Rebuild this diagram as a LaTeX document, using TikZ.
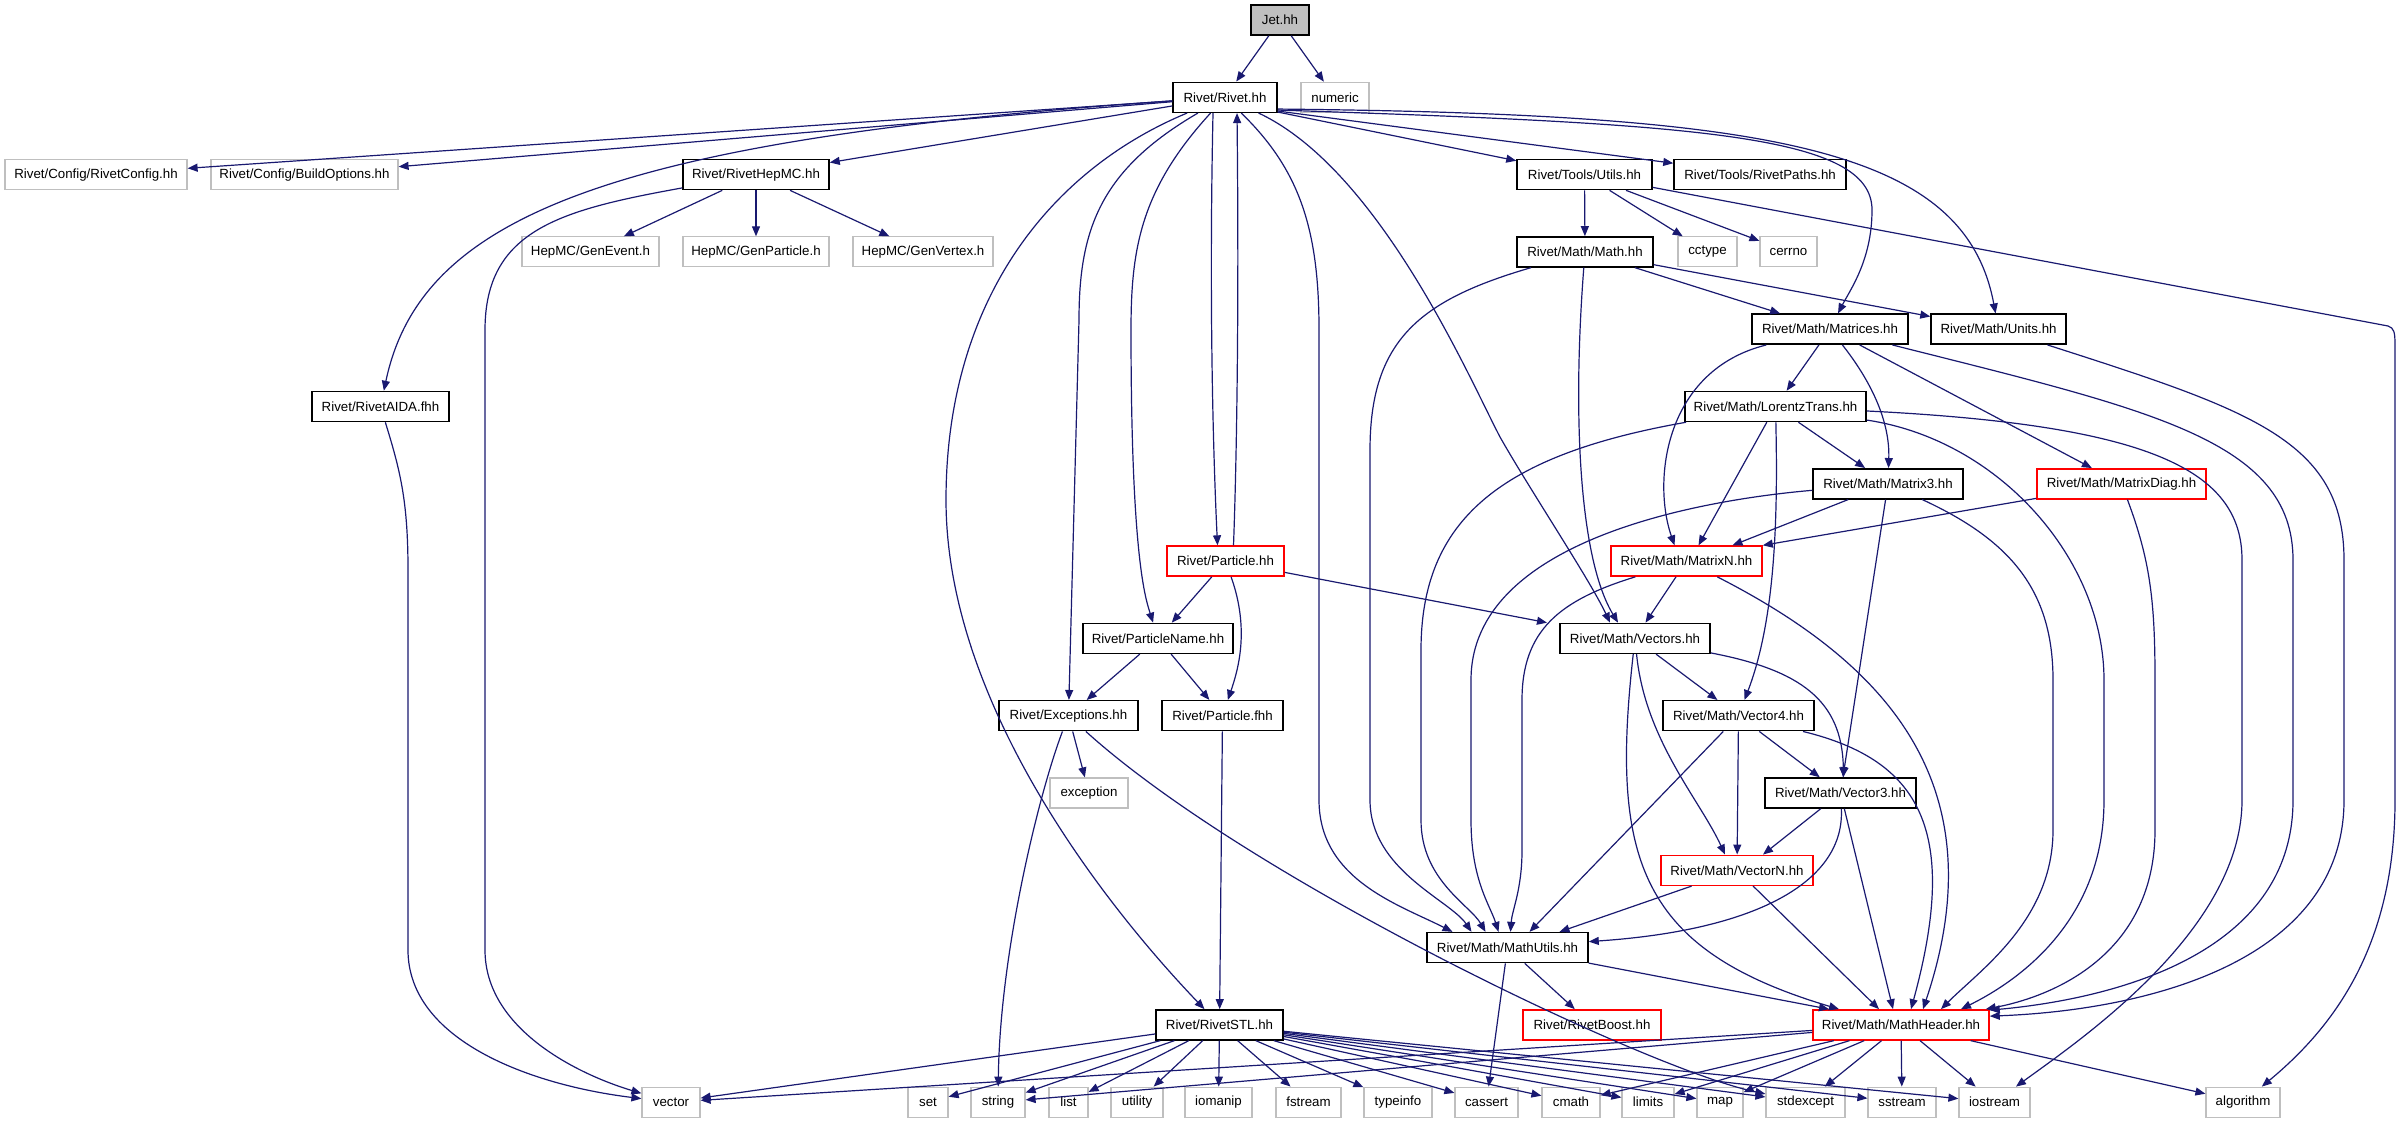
\documentclass[tikz,border=0pt]{standalone}
\usepackage{fontspec}
\setmainfont{Liberation Sans}
\usetikzlibrary{arrows.meta}
\definecolor{edgeblue}{HTML}{191970}
\definecolor{grayline}{HTML}{BFBFBF}
\definecolor{jetfill}{HTML}{BFBFBF}
\newcommand\mkbox[6]{\node[#1,minimum width=#2pt] (#3) at (#4,#5) {#6};}
\begin{document}
\begin{tikzpicture}[x=1pt,y=-1pt,
  box/.style={draw=black, line width=1.5pt, fill=white, minimum height=30pt, inner sep=0pt,
    font=\fontsize{13.3}{15}\selectfont, text=black},
  sys/.style={box, draw=grayline, line width=1.2pt},
  redbox/.style={box, draw=red},
  dep/.style={draw=edgeblue, line width=1.2pt, -{Triangle[length=10pt,width=8pt]}}]
\useasboundingbox (0,0) rectangle (2400,1123);
% nodes
\mkbox{box,fill=jetfill}{58}{jet}{1280}{20}{Jet.hh}
\mkbox{box}{104}{rivet}{1225}{97.3}{Rivet/Rivet.hh}
\mkbox{sys}{68}{numeric}{1335}{97.3}{numeric}
\mkbox{sys}{182}{config}{96}{174.6}{Rivet/Config/RivetConfig.hh}
\mkbox{sys}{187}{buildopt}{304.5}{174.6}{Rivet/Config/BuildOptions.hh}
\mkbox{box}{146}{hepmc}{756}{174.6}{Rivet/RivetHepMC.hh}
\mkbox{box}{135}{utils}{1584.5}{174.6}{Rivet/Tools/Utils.hh}
\mkbox{box}{172}{paths}{1760}{174.6}{Rivet/Tools/RivetPaths.hh}
\mkbox{sys}{137}{genevent}{590.5}{251.9}{HepMC/GenEvent.h}
\mkbox{sys}{146}{genparticle}{756}{251.9}{HepMC/GenParticle.h}
\mkbox{sys}{140}{genvertex}{923}{251.9}{HepMC/GenVertex.h}
\mkbox{box}{136}{math}{1585}{251.9}{Rivet/Math/Math.hh}
\mkbox{sys}{59}{cctype}{1707.5}{251.9}{cctype}
\mkbox{sys}{57}{cerrno}{1788.5}{251.9}{cerrno}
\mkbox{box}{156}{matrices}{1830}{329.2}{Rivet/Math/Matrices.hh}
\mkbox{box}{135}{units}{1998.5}{329.2}{Rivet/Math/Units.hh}
\mkbox{box}{137}{aida}{380.5}{406.5}{Rivet/RivetAIDA.fhh}
\mkbox{box}{181}{lorentz}{1775.5}{406.5}{Rivet/Math/LorentzTrans.hh}
\mkbox{box}{150}{matrixthree}{1888}{483.8}{Rivet/Math/Matrix3.hh}
\mkbox{redbox}{169}{matrixdiag}{2121.5}{483.8}{Rivet/Math/MatrixDiag.hh}
\mkbox{redbox}{117}{particle}{1225.5}{561.1}{Rivet/Particle.hh}
\mkbox{redbox}{151}{matrixn}{1686.5}{561.1}{Rivet/Math/MatrixN.hh}
\mkbox{box}{150}{pname}{1158}{638.4}{Rivet/ParticleName.hh}
\mkbox{box}{150}{vectors}{1635}{638.4}{Rivet/Math/Vectors.hh}
\mkbox{box}{139}{exceptions}{1068.5}{715.7}{Rivet/Exceptions.hh}
\mkbox{box}{121}{pfhh}{1222.5}{715.7}{Rivet/Particle.fhh}
\mkbox{box}{151}{vfour}{1738.5}{715.7}{Rivet/Math/Vector4.hh}
\mkbox{sys}{78}{exception}{1089}{793}{exception}
\mkbox{box}{151}{vthree}{1840.5}{793}{Rivet/Math/Vector3.hh}
\mkbox{redbox}{152}{vecn}{1737}{870.3}{Rivet/Math/VectorN.hh}
\mkbox{box}{161}{mathutils}{1507.5}{947.6}{Rivet/Math/MathUtils.hh}
\mkbox{box}{127}{stl}{1219.5}{1024.9}{Rivet/RivetSTL.hh}
\mkbox{redbox}{138}{boost}{1592}{1024.9}{Rivet/RivetBoost.hh}
\mkbox{redbox}{176}{mheader}{1901}{1024.9}{Rivet/Math/MathHeader.hh}
\mkbox{sys}{58}{vector}{671}{1102.2}{vector}
\mkbox{sys}{40}{set}{928}{1102.2}{set}
\mkbox{sys}{54}{string}{998}{1102.2}{string}
\mkbox{sys}{39}{list}{1068.5}{1102.2}{list}
\mkbox{sys}{52}{utility}{1137}{1102.2}{utility}
\mkbox{sys}{67}{iomanip}{1218.5}{1102.2}{iomanip}
\mkbox{sys}{65}{fstream}{1308.5}{1102.2}{fstream}
\mkbox{sys}{68}{typeinfo}{1398}{1102.2}{typeinfo}
\mkbox{sys}{63}{cassert}{1486.5}{1102.2}{cassert}
\mkbox{sys}{58}{cmath}{1571}{1102.2}{cmath}
\mkbox{sys}{52}{limits}{1648}{1102.2}{limits}
\mkbox{sys}{46}{map}{1720}{1102.2}{map}
\mkbox{sys}{79}{stdexcept}{1805.5}{1102.2}{stdexcept}
\mkbox{sys}{68}{sstream}{1902}{1102.2}{sstream}
\mkbox{sys}{71}{iostream}{1994.5}{1102.2}{iostream}
\mkbox{sys}{74}{algorithm}{2243}{1102.2}{algorithm}
% edges
\draw[dep] (jet) -- (rivet);
\draw[dep] (jet) -- (numeric);
\draw[dep] (rivet) -- (config);
\draw[dep] (rivet) -- (buildopt);
\draw[dep] (rivet) -- (hepmc);
\draw[dep] ([yshift=1pt]rivet.south east) -- (utils);
\draw[dep] ([yshift=2pt]rivet.south east) -- (paths);
\draw[dep] ([yshift=3pt]rivet.south east) .. controls (1700,124) and (1872,135) .. (1872,210) .. controls (1872,260) and (1850,290) .. (matrices);
\draw[dep] ([yshift=4pt]rivet.south east) .. controls (1780,114) and (1965,150) .. (units);
\draw[dep] (rivet) .. controls (600,140) and (420,220) .. (aida);
\draw[dep] (rivet) .. controls (1050,170) and (946,300) .. (946,500) .. controls (946,700) and (1100,900) .. (stl);
\draw[dep] (rivet) .. controls (1100,170) and (1079,230) .. (1079,320) -- (exceptions);
\draw[dep] (rivet) .. controls (1140,190) and (1131,250) .. (1131,330) .. controls (1131,560) and (1146,600) .. (pname);
\draw[dep] ([xshift=-12pt]rivet.south) .. controls (1209,300) and (1213,450) .. ([xshift=-8pt]particle.north);
\draw[dep] ([xshift=8pt]particle.north) .. controls (1237,450) and (1239,300) .. ([xshift=12pt]rivet.south);
\draw[dep] (rivet) .. controls (1300,170) and (1319,230) .. (1319,330) -- (1319,800) .. controls (1319,880) and (1400,905) .. ([xshift=-55pt]mathutils.north);
\draw[dep] (rivet) .. controls (1380,170) and (1470,380) .. (1500,437) .. controls (1530,490) and (1590,580) .. ([xshift=-25pt]vectors.north);
\draw[dep] (math) .. controls (1572,420) and (1580,560) .. ([xshift=-17pt]vectors.north);
\draw[dep] (particle) -- (pname);
\draw[dep] (particle) .. controls (1250,630) and (1238,670) .. (pfhh);
\draw[dep] (particle) -- ([xshift=-88pt]vectors.north);
\draw[dep] (pname) -- (exceptions);
\draw[dep] (pname) -- (pfhh);
\draw[dep] (exceptions) -- (exception);
\draw[dep] (exceptions) .. controls (1040,790) and (1000,950) .. (string);
\draw[dep] (exceptions) .. controls (1250,880) and (1650,1070) .. (stdexcept);
\draw[dep] (pfhh) -- (stl);
\draw[dep] (hepmc) -- (genevent);
\draw[dep] (hepmc) -- (genparticle);
\draw[dep] (hepmc) -- (genvertex);
\draw[dep] (hepmc) .. controls (560,210) and (485,230) .. (485,330) -- (485,950) .. controls (485,1030) and (580,1075) .. (vector);
\draw[dep] (aida) .. controls (400,470) and (408,500) .. (408,570) -- (408,950) .. controls (408,1040) and (530,1085) .. (vector);
\draw[dep] (utils) -- (math);
\draw[dep] (utils) -- (cctype);
\draw[dep] (utils) -- (cerrno);
\draw[dep] (utils) -- (2388,326) .. controls (2394,328) and (2395,332) .. (2395,345) -- (2395,800) .. controls (2395,950) and (2330,1030) .. (algorithm);
\draw[dep] (math) -- (matrices);
\draw[dep] (math) -- (units);
\draw[dep] (math) .. controls (1420,300) and (1370,340) .. (1370,450) -- (1370,800) .. controls (1370,870) and (1450,900) .. ([xshift=-36pt]mathutils.north);
\draw[dep] (matrices) .. controls (1665,370) and (1652,480) .. ([xshift=-12pt]matrixn.north);
\draw[dep] (matrices) -- (lorentz);
\draw[dep] (matrices) .. controls (1870,380) and (1890,420) .. (matrixthree);
\draw[dep] (matrices) -- (matrixdiag);
\draw[dep] (matrices) .. controls (2150,410) and (2293,440) .. (2293,560) -- (2293,800) .. controls (2293,960) and (2100,1000) .. ([yshift=-1pt]mheader.north east);
\draw[dep] (units) .. controls (2250,410) and (2344,440) .. (2344,560) -- (2344,800) .. controls (2344,960) and (2150,1010) .. ([yshift=-7pt]mheader.north east);
\draw[dep] (lorentz) .. controls (1500,455) and (1421,520) .. (1421,650) -- (1421,820) .. controls (1421,880) and (1470,905) .. ([xshift=-22pt]mathutils.north);
\draw[dep] (lorentz) -- ([xshift=12pt]matrixn.north);
\draw[dep] (lorentz) .. controls (1778,520) and (1775,620) .. ([xshift=6pt]vfour.north);
\draw[dep] (lorentz) -- (matrixthree);
\draw[dep] (lorentz) .. controls (2000,440) and (2104,560) .. (2104,680) -- (2104,800) .. controls (2104,920) and (2020,980) .. ([xshift=60pt]mheader.north);
\draw[dep] (lorentz) .. controls (2150,425) and (2242,470) .. (2242,560) -- (2242,800) .. controls (2242,930) and (2080,1040) .. (iostream);
\draw[dep] (matrixthree) .. controls (1700,500) and (1471,540) .. (1471,680) -- (1471,820) .. controls (1471,880) and (1490,905) .. ([xshift=-9pt]mathutils.north);
\draw[dep] (matrixthree) -- ([xshift=46pt]matrixn.north);
\draw[dep] (matrixthree) -- (vthree);
\draw[dep] (matrixthree) .. controls (2010,540) and (2053,590) .. (2053,680) -- (2053,830) .. controls (2053,920) and (1980,970) .. ([xshift=40pt]mheader.north);
\draw[dep] (matrixdiag) -- (matrixn.north east);
\draw[dep] (matrixdiag) .. controls (2150,560) and (2155,600) .. (2155,680) -- (2155,830) .. controls (2155,950) and (2060,995) .. ([xshift=-4pt]mheader.north east);
\draw[dep] (matrixn) .. controls (1560,600) and (1522,630) .. (1522,700) -- (1522,850) .. controls (1522,890) and (1512,910) .. ([xshift=3pt]mathutils.north);
\draw[dep] (matrixn) -- (vectors);
\draw[dep] (matrixn) .. controls (1880,660) and (2000,780) .. ([xshift=22pt]mheader.north);
\draw[dep] (vectors) -- (vfour);
\draw[dep] (vectors) .. controls (1645,740) and (1700,800) .. ([xshift=-12pt]vecn.north);
\draw[dep] (vectors) .. controls (1800,670) and (1842,700) .. ([xshift=3pt]vthree.north);
\draw[dep] (vectors) .. controls (1610,860) and (1640,950) .. ([xshift=-62pt]mheader.north);
\draw[dep] (vfour) -- ([xshift=22pt]mathutils.north);
\draw[dep] (vfour) -- (vecn);
\draw[dep] (vfour) -- (vthree);
\draw[dep] (vfour) .. controls (1920,760) and (1960,830) .. ([xshift=10pt]mheader.north);
\draw[dep] (vthree) -- ([xshift=26pt]vecn.north);
\draw[dep] (vthree) .. controls (1845,880) and (1760,930) .. ([yshift=6pt]mathutils.east);
\draw[dep] (vthree) -- ([xshift=-8pt]mheader.north);
\draw[dep] (vecn) -- ([xshift=52pt]mathutils.north);
\draw[dep] (vecn) -- ([xshift=-22pt]mheader.north);
\draw[dep] (mathutils) -- (cassert);
\draw[dep] (mathutils) -- (boost);
\draw[dep] (mathutils) -- ([xshift=-72pt]mheader.north);
\foreach \t in {vector,set,string,list,utility,iomanip,fstream,typeinfo,cassert,cmath,limits,map,stdexcept,sstream,iostream}
  \draw[dep] (stl) -- (\t);
\foreach \t in {vector,string,cmath,limits,map,stdexcept,sstream,iostream,algorithm}
  \draw[dep] (mheader) -- (\t);
\end{tikzpicture}
\end{document}
